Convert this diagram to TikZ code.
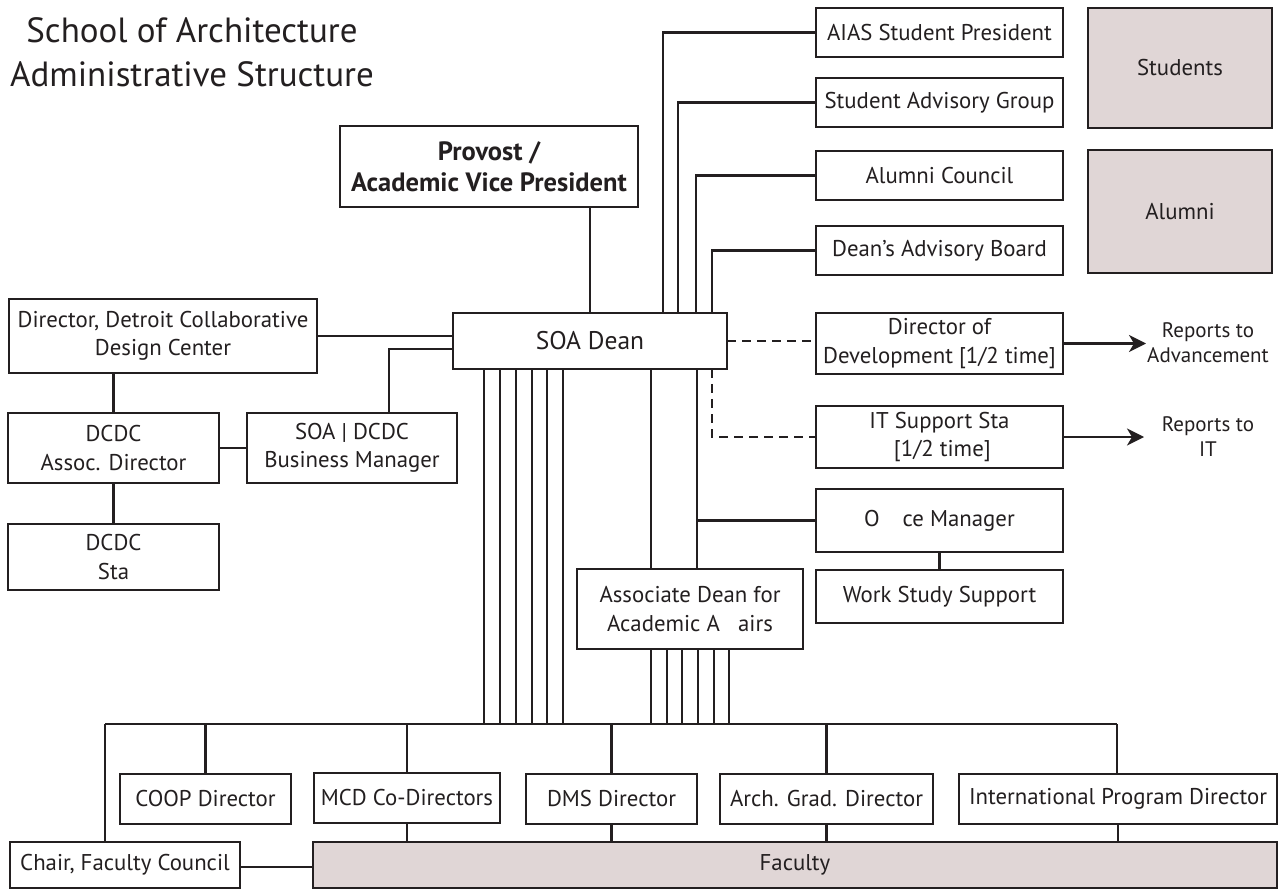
\documentclass[tikz,border=0pt]{standalone}
\usepackage{fontspec}
\setmainfont{PT Sans}
\usetikzlibrary{arrows.meta}
\definecolor{ink}{RGB}{35,31,32}
\definecolor{pinkgrey}{RGB}{224,214,214}
\begin{document}
\begin{tikzpicture}[x=1pt,y=-1pt,
  box/.style={draw=ink, line width=2.7pt, fill=white, inner sep=0pt, outer sep=0pt,
    align=center, text=ink, font=\fontsize{22.8}{28.5}\selectfont},
  shaded/.style={box, fill=pinkgrey},
  wire/.style={draw=ink, line width=2.3pt},
  dashwire/.style={wire, dash pattern=on 9pt off 6pt},
  arrowwire/.style={wire, -{Stealth[length=17pt,width=17pt,inset=5pt]}},
  note/.style={text=ink, align=center, inner sep=0pt, font=\fontsize{21}{25}\selectfont}
]
\useasboundingbox (0,0) rectangle (1285,890);

% title
\node[text=ink, align=center, inner sep=0pt, font=\fontsize{35}{44}\selectfont] (title) at (192,52)
  {School of Architecture\\Administrative Structure};

% top
\node[box, minimum width=298pt, minimum height=81pt, font=\bfseries\fontsize{26.5}{31}\selectfont]
  (prov) at (489,166.5) {Provost /\\Academic Vice President};
\node[box, minimum width=274pt, minimum height=56pt, font=\fontsize{25.5}{28}\selectfont]
  (dean) at (590,341) {SOA Dean};

% right column
\node[box, minimum width=247pt, minimum height=49pt] (aias) at (939.5,32.5) {AIAS Student President};
\node[box, minimum width=247pt, minimum height=49pt] (sag) at (939.5,102.5) {Student Advisory Group};
\node[box, minimum width=247pt, minimum height=49pt] (alc) at (939.5,175.5) {Alumni Council};
\node[box, minimum width=247pt, minimum height=49pt] (dab) at (939.5,250.5) {Dean’s Advisory Board};
\node[box, minimum width=247pt, minimum height=61pt] (dev) at (939.5,343.5) {Director of\\Development [1/2 time]};
\node[box, minimum width=247pt, minimum height=62pt] (it) at (939.5,437) {IT Support Sta\hspace{0.6em}\\\hspace{0.25em}[1/2 time]};
\node[box, minimum width=247pt, minimum height=63pt] (office) at (939.5,520.5) {O\hspace{1em}ce Manager};
\node[box, minimum width=247pt, minimum height=53pt] (work) at (939.5,596.5) {Work Study Support};

\node[shaded, minimum width=184pt, minimum height=120pt] (students) at (1180,68) {Students};
\node[shaded, minimum width=184pt, minimum height=123pt] (alumni) at (1180,211.5) {Alumni};

\node[note] (rep1) at (1208,343) {Reports to\\Advancement};
\node[note] (rep2) at (1208,437) {Reports to\\IT};
\coordinate (tip1) at (1146,343.5);
\coordinate (tip2) at (1144,437);

% left
\node[box, minimum width=308pt, minimum height=74pt] (dcdc) at (163,336) {Director, Detroit Collaborative\\Design Center};
\node[box, minimum width=211pt, minimum height=70pt] (adir) at (113.5,448) {DCDC\\Assoc. Director};
\node[box, minimum width=210pt, minimum height=70pt] (bm) at (352,448) {SOA | DCDC\\Business Manager};
\node[box, minimum width=211pt, minimum height=66pt] (staff) at (113.5,557) {DCDC\\Sta\hspace{0.8em}};

% associate dean
\node[box, minimum width=226pt, minimum height=80pt] (assoc) at (690,609) {Associate Dean for\\Academic A\hspace{0.8em}airs};

% bottom
\node[box, minimum width=171pt, minimum height=50pt] (coop) at (205.5,799) {COOP Director};
\node[box, minimum width=186pt, minimum height=50pt] (mcd) at (407,798) {MCD Co-Directors};
\node[box, minimum width=171pt, minimum height=50pt] (dms) at (611.5,799) {DMS Director};
\node[box, minimum width=213pt, minimum height=50pt] (arch) at (826.5,799) {Arch. Grad. Director};
\node[box, minimum width=318pt, minimum height=50pt] (intl) at (1118,799) {International Program Director};
\node[box, minimum width=230pt, minimum height=46pt] (chair) at (125,865) {Chair, Faculty Council};
\node[shaded, minimum width=964pt, minimum height=46pt] (faculty) at (795,865) {Faculty};

\coordinate (busL) at (105,724);
\coordinate (busR) at (1117,724);

% anchor points on the dean box
\coordinate (dnw) at (dean.north west);
\coordinate (dsw) at (dean.south west);
\coordinate (asw) at (assoc.south west);

% connectors: top
\draw[wire] (dean.north |- prov.south) -- (dean.north);
\coordinate (t1) at ([xshift=210pt]dnw);
\coordinate (t2) at ([xshift=225pt]dnw);
\coordinate (t3) at ([xshift=243pt]dnw);
\coordinate (t4) at ([xshift=259pt]dnw);
\draw[wire] (aias.west) -| (t1);
\draw[wire] (sag.west) -| (t2);
\draw[wire] (alc.west) -| (t3);
\draw[wire] (dab.west) -| (t4);

% left
\coordinate (bmtop) at ([xshift=37pt]bm.north);
\coordinate (deanlow) at ([yshift=-8pt]dean.west);
\draw[wire] (dcdc.east) -- (dcdc.east -| dean.west);
\draw[wire] (bmtop) |- (deanlow);
\draw[wire] (adir.north |- dcdc.south) -- (adir.north);
\draw[wire] (adir.south) -- (staff.north);
\draw[wire] (adir.east) -- (adir.east -| bm.west);

% right dashed and arrows
\coordinate (dashtop) at ([xshift=259pt]dsw);
\draw[dashwire] (dean.east) -- (dean.east -| dev.west);
\draw[dashwire] (dashtop) |- (it.west);
\draw[arrowwire] (dev.east) -- (tip1);
\draw[arrowwire] (it.east) -- (tip2);

% dean to associate dean and office
\coordinate (s1) at ([xshift=198pt]dsw);
\coordinate (s2) at ([xshift=244pt]dsw);
\draw[wire] (s1) -- (s1 |- assoc.north);
\draw[wire] (s2) -- (s2 |- assoc.north);
\draw[wire] (office.west) -- (office.west -| s2);
\draw[wire] (office.south) -- (work.north);

% dean to bus
\foreach \dx [count=\i] in {31,47,63,79,94,110} {
  \coordinate (dd\i) at ([xshift=\dx pt]dsw);
  \draw[wire] (dd\i) -- (dd\i |- busL);
}
% associate dean to bus
\foreach \dx [count=\i] in {74,90,105,121,137,152} {
  \coordinate (ad\i) at ([xshift=\dx pt]asw);
  \draw[wire] (ad\i) -- (ad\i |- busL);
}

% bus
\draw[wire, line width=2.7pt] (busL) -- (busR);
\draw[wire] (busL) -- (busL |- chair.north);
\draw[wire] (coop.north |- busL) -- (coop.north);
\draw[wire] (mcd.north |- busL) -- (mcd.north);
\draw[wire] (dms.north |- busL) -- (dms.north);
\draw[wire] (arch.north |- busL) -- (arch.north);
\draw[wire] (busR) -- (busR |- intl.north);

% to faculty
\coordinate (chairlink) at ([yshift=-2pt]chair.east);
\draw[wire] (mcd.south) -- (mcd.south |- faculty.north);
\draw[wire] (dms.south) -- (dms.south |- faculty.north);
\draw[wire] (arch.south) -- (arch.south |- faculty.north);
\draw[wire] (intl.south) -- (intl.south |- faculty.north);
\draw[wire] (chairlink) -- (chairlink -| faculty.west);
\end{tikzpicture}
\end{document}
